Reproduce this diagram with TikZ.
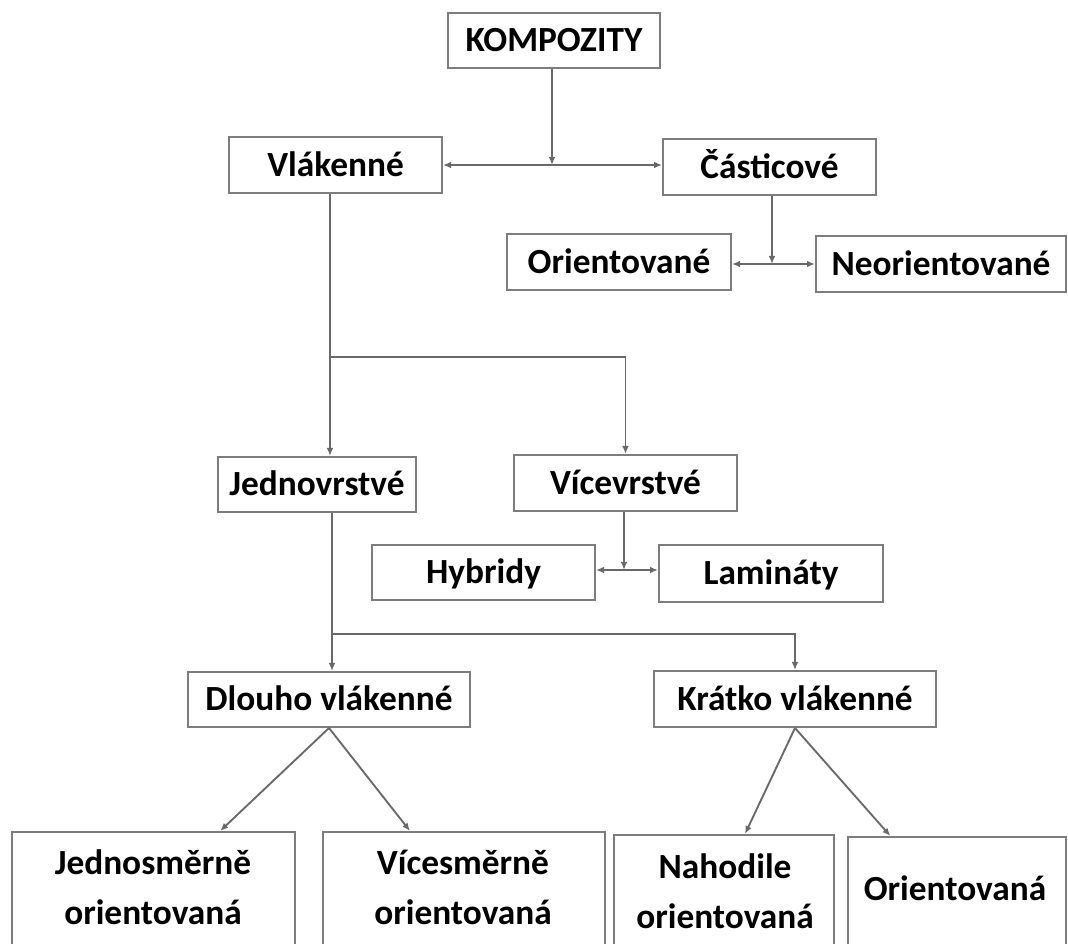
\documentclass[tikz,border=0pt]{standalone}
\usepackage{fontspec}
\setmainfont{Carlito}
\usetikzlibrary{arrows.meta,calc}
\definecolor{boxgray}{RGB}{125,125,125}
\definecolor{linegray}{RGB}{105,105,105}
\tikzset{
  box/.style={draw=boxgray, line width=1.5pt, fill=white, rectangle, inner sep=0pt,
              text height=18pt, text depth=1pt,
              font=\fontsize{26.5}{37}\selectfont\bfseries},
  lbl/.style={inner sep=0pt, align=center, font=\fontsize{26.5}{37.5}\selectfont\bfseries},
  conn/.style={draw=linegray, line width=1.4pt},
  arr/.style={conn, -{Latex[length=6pt,width=5pt]}},
  darr/.style={conn, {Latex[length=6pt,width=5pt]}-{Latex[length=6pt,width=5pt]}},
}
\begin{document}
\begin{tikzpicture}[x=0.75pt,y=-0.75pt]
\useasboundingbox (0,0) rectangle (1068,944);
\clip (0,0) rectangle (1068,944);
% boxes
\node[box, minimum width=159pt, minimum height=41.25pt] (komp) at (554,40.5) {KOMPOZITY};
\node[box, minimum width=159.75pt, minimum height=42pt] (vlak) at (335.5,165) {Vlákenné};
\node[box, minimum width=159.75pt, minimum height=42pt] (cast) at (769.5,167) {Částicové};
\node[box, minimum width=168pt, minimum height=42pt] (ori) at (619,262) {Orientované};
\node[box, minimum width=187.5pt, minimum height=42pt] (neo) at (941,264) {Neorientované};
\node[box, minimum width=148.5pt, minimum height=41.25pt] (jedn) at (317,484.5) {Jednovrstvé};
\node[box, minimum width=167.25pt, minimum height=42pt] (vice) at (625.5,483) {Vícevrstvé};
\node[box, minimum width=167.25pt, minimum height=41.25pt] (hyb) at (483.5,572.5) {Hybridy};
\node[box, minimum width=168pt, minimum height=42.75pt] (lam) at (771,573.5) {Lamináty};
\node[box, minimum width=211.5pt, minimum height=41.25pt] (dlou) at (329,699.5) {Dlouho vlákenné};
\node[box, minimum width=211.5pt, minimum height=42pt] (krat) at (795,699) {Krátko vlákenné};
% bottom boxes (cut by the page edge)
\node[box, minimum width=212.25pt, minimum height=126pt] (b1) at (153.5,916) {};
\node[box, minimum width=211.5pt, minimum height=126pt] (b2) at (464,916) {};
\node[box, minimum width=165pt, minimum height=123.75pt] (b3) at (724,917.5) {};
\node[box, minimum width=163.5pt, minimum height=122.25pt] (b4) at (957,918.5) {};
\node[lbl] (t1) at (153,887) {Jednosměrně\\orientovaná};
\node[lbl] (t2) at (463,887) {Vícesměrně\\orientovaná};
\node[lbl] (t3) at (725,891) {Nahodile\\orientovaná};
\node[lbl] (t4) at (955,888) {Orientovaná};
% connectors
\draw[darr] (vlak.east) -- (vlak.east -| cast.west);
\coordinate (k1) at (552,165);
\draw[arr] (komp.south -| k1) -- (k1);
\coordinate (c1) at (772,264);
\draw[darr] (ori.east |- c1) -- (neo.west |- c1);
\draw[arr] (cast.south -| c1) -- (c1);
\coordinate (j1) at (330,357);
\draw[conn] (vlak.south -| j1) -- (j1);
\draw[arr] (j1) -- (jedn.north -| j1);
\draw[arr] (j1) -| (vice.north);
\coordinate (v1) at (624,570);
\draw[darr] (hyb.east |- v1) -- (lam.west |- v1);
\draw[arr] (vice.south -| v1) -- (v1);
\coordinate (j2) at (332,634);
\draw[conn] (jedn.south -| j2) -- (j2);
\draw[arr] (j2) -- (dlou.north -| j2);
\draw[arr] (j2) -| (krat.north);
\draw[arr] (dlou.south) -- ([xshift=50pt]b1.north);
\draw[arr] (dlou.south) -- ([xshift=-40.5pt]b2.north);
\draw[arr] (krat.south) -- ([xshift=15.75pt]b3.north);
\draw[arr] (krat.south) -- ([xshift=-50pt]b4.north);
\end{tikzpicture}
\end{document}
